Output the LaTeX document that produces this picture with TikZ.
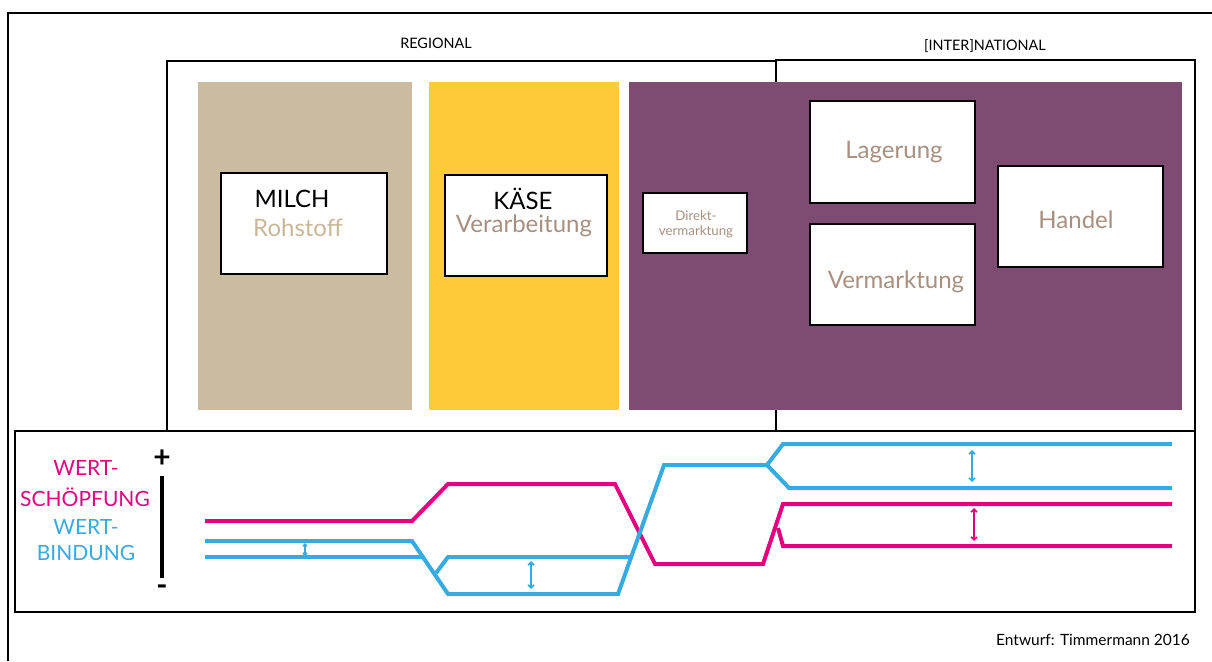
\documentclass[tikz,border=0pt]{standalone}
\usepackage{fontspec}
\setmainfont{Lato}
\usetikzlibrary{arrows.meta}
\definecolor{tanbg}{HTML}{CBBC9F}
\definecolor{yellowbg}{HTML}{FFCB36}
\definecolor{purplebg}{HTML}{7E4C72}
\definecolor{brtext}{HTML}{A89080}
\definecolor{tantext}{HTML}{C8B898}
\definecolor{mag}{HTML}{E5007D}
\definecolor{cyanl}{HTML}{36ABE1}
\tikzset{
  frame/.style={draw=black, line width=2pt},
  bar/.style={inner sep=0pt, outer sep=0pt},
  wbox/.style={draw=black, fill=white, line width=2.5pt, inner sep=0pt},
  big/.style={font=\fontsize{24}{28}\selectfont, inner sep=0pt},
  small/.style={font=\fontsize{13.3}{15}\selectfont, inner sep=0pt},
  lbl/.style={font=\fontsize{21}{24}\selectfont, inner sep=0pt},
  hdr/.style={font=\fontsize{14.4}{16}\selectfont, inner sep=0pt},
  track/.style={line width=4pt, line join=miter},
  darr/.style={line width=1.6pt, {Straight Barb[length=3pt,width=6pt]}-{Straight Barb[length=3pt,width=6pt]}}
}
\begin{document}
\begin{tikzpicture}[x=1pt,y=-1pt]
\useasboundingbox (0,0) rectangle (1212,661);
\fill[white] (0,0) rectangle (1212,661);
% outer frame
\coordinate (ofBL) at (8,661);
\coordinate (ofTL) at (8,13);
\coordinate (ofTR) at (1212,13);
\draw[frame] (ofBL) -- (ofTL) -- (ofTR);
% region boxes
\node[frame, bar, minimum width=609, minimum height=370] (regional) at (471.5,246) {};
\node[frame, bar, minimum width=419, minimum height=371] (intl) at (985.5,245.5) {};
\node[frame, bar, minimum width=1180, minimum height=181] (chart) at (605,521.5) {};
\node[hdr] (tRegional) at (436,43) {REGIONAL};
\node[hdr] (tIntl) at (985,46) {[INTER]NATIONAL};
% coloured bars
\node[bar, fill=tanbg, minimum width=214, minimum height=328] (tanbar) at (305,246) {};
\node[bar, fill=yellowbg, minimum width=190, minimum height=328] (yelbar) at (524,246) {};
\node[bar, fill=purplebg, minimum width=553, minimum height=328] (purbar) at (905.5,246) {};
% white boxes
\node[wbox, minimum width=166, minimum height=101] (milch) at (304,223.5) {};
\node[big, text=black] (milchA) at (292,199) {MILCH};
\node[big, text=tantext] (milchB) at (298,228) {Rohstoff};
\node[wbox, minimum width=162, minimum height=101] (kaese) at (526,225.5) {};
\node[big, text=black] (kaeseA) at (523,199) {KÄSE};
\node[big, text=brtext] (kaeseB) at (524,226) {Verarbeitung};
\node[wbox, minimum width=104, minimum height=60] (direkt) at (695,223) {};
\node[small, text=brtext, align=center] (direktT) at (696,224) {Direkt-\\vermarktung};
\node[wbox, minimum width=165, minimum height=102] (lager) at (892.5,152) {};
\node[big, text=brtext] (lagerT) at (894,152) {Lagerung};
\node[wbox, minimum width=165, minimum height=101] (verm) at (892.5,274.5) {};
\node[big, text=brtext] (vermT) at (896,282) {Vermarktung};
\node[wbox, minimum width=165, minimum height=101] (handel) at (1080.5,216.5) {};
\node[big, text=brtext] (handelT) at (1076,220) {Handel};
% left labels
\node[lbl, text=mag] (w1) at (86,468) {WERT-};
\node[lbl, text=mag] (w2) at (85,497) {SCHÖPFUNG};
\node[lbl, text=cyanl] (w3) at (86,527) {WERT-};
\node[lbl, text=cyanl] (w4) at (86,553) {BINDUNG};
% scale
\node[font=\fontsize{30}{32}\selectfont\bfseries, inner sep=0pt] (plus) at (162,459) {+};
\node[font=\fontsize{30}{32}\selectfont\bfseries, inner sep=0pt] (minus) at (162,590) {-};
\coordinate (sTop) at (162,476);
\coordinate (sBot) at (162,578);
\draw[line width=4pt] (sTop) -- (sBot);
% tracks
\draw[track, mag] (205,521) -- (412,521) -- (448,484) -- (615,484) -- (655,564) -- (763,564) -- (783,504) -- (1172,504);
\draw[track, mag] (778,528) -- (783,546) -- (1172,546);
\draw[track, cyanl] (205,541) -- (412,541) -- (448,594) -- (618,594) -- (664,465) -- (767,465) -- (783,444) -- (1172,444);
\draw[track, cyanl] (767,465) -- (789,488) -- (1172,488);
\draw[track, cyanl] (205,557) -- (423,557);
\draw[track, cyanl] (436,573) -- (448,557) -- (631,557);
% double arrows
\draw[darr, cyanl, {Straight Barb[length=2pt,width=4pt]}-{Straight Barb[length=2pt,width=4pt]}] (305,543) -- (305,556);
\draw[darr, cyanl] (531,561) -- (531,589);
\draw[darr, cyanl] (972,450) -- (972,482);
\draw[darr, mag] (974,508) -- (974,541);
% credit
\node[font=\fontsize{15.5}{17}\selectfont, inner sep=0pt] (credit) at (1093,640) {Entwurf: Timmermann 2016};
\end{tikzpicture}
\end{document}
